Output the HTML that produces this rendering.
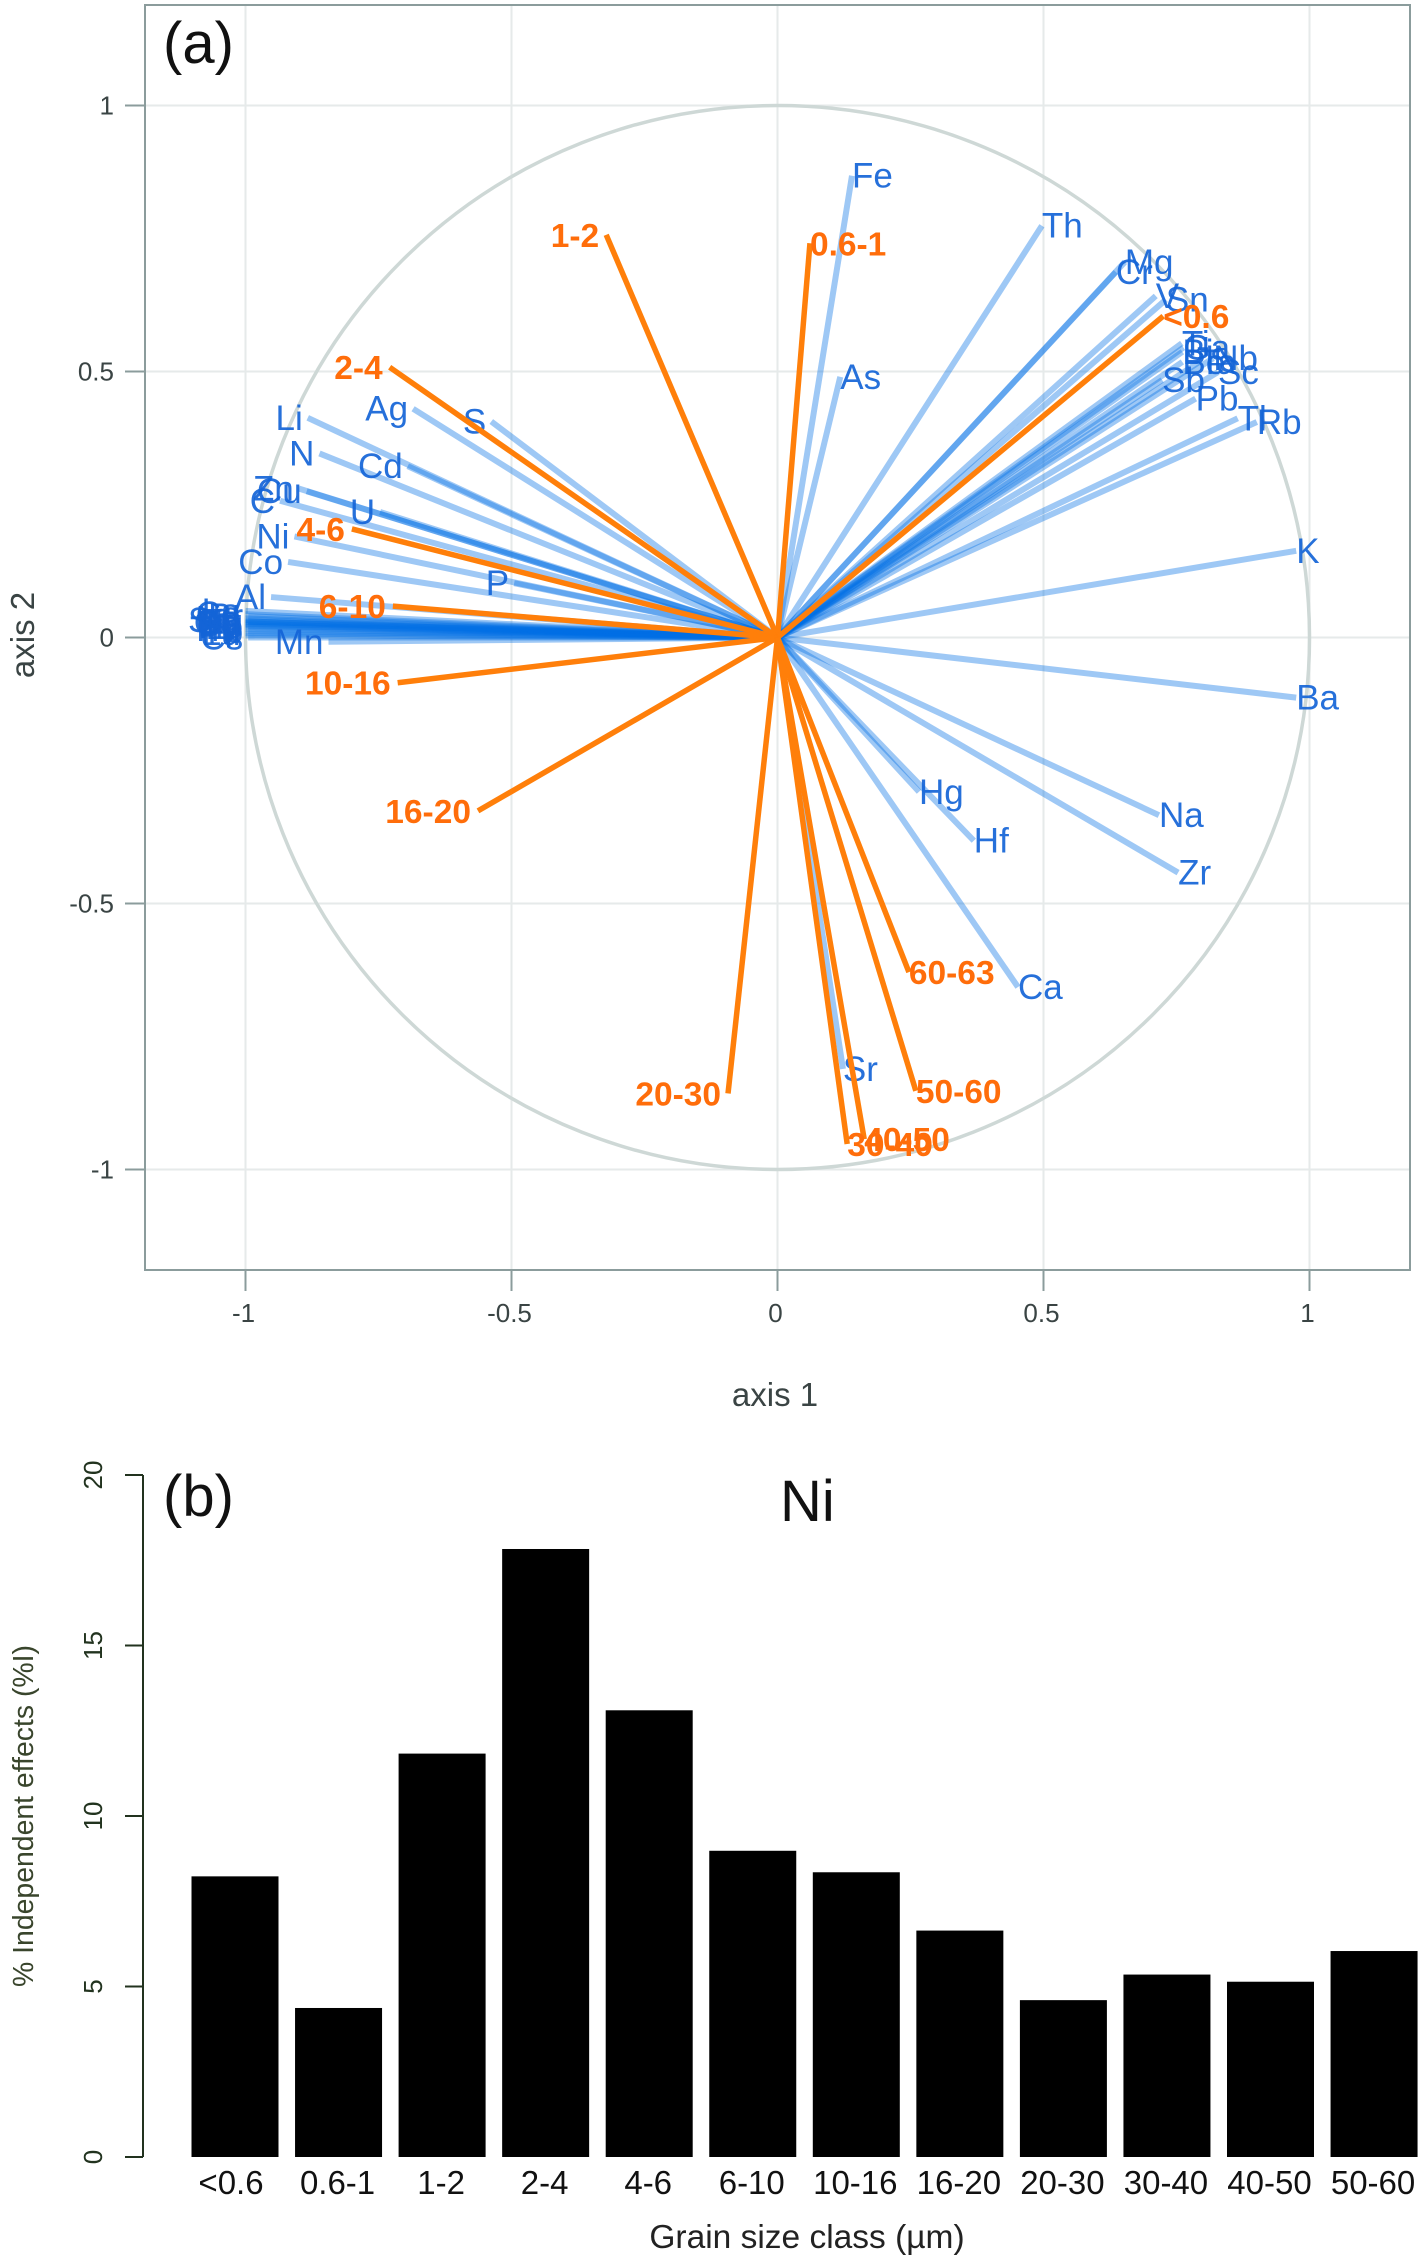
<!DOCTYPE html>
<html lang="en">
<head>
<meta charset="utf-8">
<title>PCA correlation circle and independent effects for Ni</title>
<style>
html,body{margin:0;padding:0;background:#fff;}
svg{display:block;font-family:"Liberation Sans",Arial,sans-serif;}
</style>
</head>
<body>
<svg id="chart" xmlns="http://www.w3.org/2000/svg" width="1418" height="2256" viewBox="0 0 1418 2256">
  <rect x="0" y="0" width="1418" height="2256" fill="#ffffff"/>
  <g id="panelA">
    <g id="gridA"></g>
    <circle id="corCircle" fill="none" stroke="#ced8d6" stroke-width="3.5"/>
    <rect x="145" y="5" width="1265" height="1265" fill="none" stroke="#8b9c9c" stroke-width="2"/>
    <g id="ticksA"></g>
    <g id="elementLines"></g>
    <g id="elementLabels"></g>
    <g id="sizeLines"></g>
    <g id="sizeLabels"></g>
    <text x="163" y="63" font-size="58" fill="#111">(a)</text>
    <text x="775" y="1406" font-size="33" fill="#3a4444" text-anchor="middle">axis 1</text>
    <text transform="translate(34,635) rotate(-90)" font-size="33" fill="#3a4444" text-anchor="middle">axis 2</text>
  </g>
  <g id="panelB">
    <g id="bars"></g>
    <g id="ticksB"></g>
    <text x="163" y="1516" font-size="58" fill="#111">(b)</text>
    <text x="780" y="1521" font-size="58" fill="#111">Ni</text>
    <text x="807" y="2248" font-size="33.5" fill="#222" text-anchor="middle">Grain size class (µm)</text>
    <text transform="translate(33,1816) rotate(-90)" font-size="29" fill="#39452c" text-anchor="middle" textLength="342" lengthAdjust="spacingAndGlyphs">% Independent effects (%I)</text>
  </g>
</svg>
<script>
var elementNames = ["Fe","As","Th","Cr","Mg","V","Sn","Ti","Ga","Bi","Be","Ta","Nb","Sc","Sb","Pb","Tl","Rb","K","Ba","Na","Zr","Hg","Hf","Ca","Sr","S","Ag","Li","N","Cd","Cu","Zn","C","U","Ni","P","Co","Al","Mn","La","Ce","Pr","Nd","Sm","Eu","Gd","Tb","Dy","Ho","Er","Tm","Yb","Lu","Y","Cs","Si"];
var elementAxis1 = [0.14,0.118,0.497,0.636,0.653,0.711,0.73,0.76,0.763,0.761,0.761,0.793,0.819,0.828,0.723,0.786,0.865,0.901,0.975,0.975,0.717,0.753,0.266,0.369,0.452,0.123,-0.538,-0.685,-0.883,-0.861,-0.695,-0.885,-0.9,-0.935,-0.747,-0.908,-0.495,-0.92,-0.952,-0.844,-1.0,-1.0,-0.995,-1.0,-1.0,-0.995,-1.0,-1.0,-1.0,-0.995,-1.0,-1.0,-0.995,-1.0,-1.0,-0.995,-1.0];
var elementAxis2 = [0.868,0.49,0.774,0.687,0.706,0.642,0.635,0.553,0.545,0.537,0.518,0.518,0.525,0.499,0.484,0.449,0.412,0.405,0.163,-0.113,-0.334,-0.442,-0.29,-0.382,-0.657,-0.811,0.406,0.43,0.413,0.346,0.322,0.275,0.28,0.257,0.236,0.19,0.102,0.142,0.076,-0.008,0.05,0.044,0.04,0.036,0.033,0.03,0.028,0.026,0.024,0.022,0.02,0.016,0.012,0.008,0.004,0.0,0.03];

var sizeClassNames = ["<0.6","0.6-1","1-2","2-4","4-6","6-10","10-16","16-20","20-30","30-40","40-50","50-60","60-63"];
var sizeAxis1 = [0.725,0.061,-0.322,-0.729,-0.8,-0.723,-0.714,-0.563,-0.093,0.131,0.163,0.26,0.247];
var sizeAxis2 = [0.604,0.741,0.757,0.508,0.204,0.059,-0.085,-0.326,-0.857,-0.952,-0.943,-0.852,-0.629];

var axisATicks = [-1,-0.5,0,0.5,1];
var axisATickLabels = ["-1","-0.5","0","0.5","1"];

var barCategories = ["<0.6","0.6-1","1-2","2-4","4-6","6-10","10-16","16-20","20-30","30-40","40-50","50-60"];
var barValues = [8.23,4.37,11.83,17.83,13.1,8.98,8.35,6.64,4.6,5.35,5.14,6.04];
var barAxisTicks = [0,5,10,15,20];
var barAxisTickLabels = ["0","5","10","15","20"];

var NS = "http://www.w3.org/2000/svg";
function make(tag, attrs, parent, text) {
  var el = document.createElementNS(NS, tag);
  for (var k in attrs) { el.setAttribute(k, attrs[k]); }
  if (text !== undefined) { el.textContent = text; }
  parent.appendChild(el);
  return el;
}
function xA(v) { return 777.5 + 532 * v; }
function yA(v) { return 637.5 - 532 * v; }
function yB(v) { return 2157 - 34.1 * v; }
function barLeft(i) { return 191.5 + 103.55 * i; }
var BAR_WIDTH = 87;

var circle = document.getElementById("corCircle");
circle.setAttribute("cx", xA(0));
circle.setAttribute("cy", yA(0));
circle.setAttribute("r", 532);

var gridA = document.getElementById("gridA");
var ticksA = document.getElementById("ticksA");
axisATicks.forEach(function (t, i) {
  var gv = make("line", {x1: xA(t), x2: xA(t), y1: 5, y2: 1270, stroke: "#e6eaea", "stroke-width": 2}, gridA);
  
  
  var gh = make("line", {x1: 145, x2: 1410, y1: yA(t), y2: yA(t), stroke: "#e6eaea", "stroke-width": 2}, gridA);
  
  
  var tx = make("line", {x1: xA(t), x2: xA(t), y1: 1270, y2: 1291, stroke: "#8b9c9c", "stroke-width": 2}, ticksA);
  
  
  var ty = make("line", {x1: 125, x2: 145, y1: yA(t), y2: yA(t), stroke: "#8b9c9c", "stroke-width": 2}, ticksA);
  
  
  var lx = make("text", {x: xA(t) - 2, y: 1322, "font-size": 26, fill: "#3a4444", "text-anchor": "middle"}, ticksA, axisATickLabels[i]);
  
  
  var ly = make("text", {x: 114, y: yA(t) + 9, "font-size": 26, fill: "#3a4444", "text-anchor": "end"}, ticksA, axisATickLabels[i]);
  
  
});

var elementLines = document.getElementById("elementLines");
var elementLabels = document.getElementById("elementLabels");
elementNames.forEach(function (name, i) {
  var px = xA(elementAxis1[i]);
  var py = yA(elementAxis2[i]);
  var ln = make("line", {x1: xA(0), y1: yA(0), x2: px, y2: py, stroke: "rgb(0,110,230)", "stroke-opacity": 0.38, "stroke-width": 6}, elementLines);
  
  
  var left = elementAxis1[i] < 0;
  var tx = make("text", {x: px + (left ? -5 : 0), y: py + 12, "font-size": 35, fill: "rgb(20,100,215)", "fill-opacity": 0.92, "text-anchor": left ? "end" : "start"}, elementLabels, name);
  
  
});

var sizeLines = document.getElementById("sizeLines");
var sizeLabels = document.getElementById("sizeLabels");
sizeClassNames.forEach(function (name, i) {
  var px = xA(sizeAxis1[i]);
  var py = yA(sizeAxis2[i]);
  var ln = make("line", {x1: xA(0), y1: yA(0), x2: px, y2: py, stroke: "#ff7f0a", "stroke-width": 5.5}, sizeLines);
  
  
  var left = sizeAxis1[i] < 0;
  var tx = make("text", {x: px + (left ? -7 : 0), y: py + 12, "font-size": 33.5, "font-weight": "bold", fill: "#ff6d0a", "text-anchor": left ? "end" : "start"}, sizeLabels, name);
  
  
});

var bars = document.getElementById("bars");
var ticksB = document.getElementById("ticksB");
barCategories.forEach(function (cat, i) {
  var top = yB(barValues[i]);
  var rect = make("rect", {x: barLeft(i), y: top, width: BAR_WIDTH, height: yB(0) - top, fill: "#000"}, bars);
  
  
  var lab = make("text", {x: barLeft(i) + BAR_WIDTH / 2 - (i === 0 ? 4 : 1), y: 2194, "font-size": 33, fill: "#111", "text-anchor": "middle"}, ticksB, cat);
  
  
});
var axisB = make("line", {x1: 143, x2: 143, y1: yB(20), y2: yB(0), stroke: "#22331f", "stroke-width": 2}, ticksB);


barAxisTicks.forEach(function (t, i) {
  var tk = make("line", {x1: 125, x2: 143, y1: yB(t), y2: yB(t), stroke: "#22331f", "stroke-width": 2}, ticksB);
  
  
  var lb = make("text", {transform: "translate(102," + yB(t) + ") rotate(-90)", "font-size": 26, fill: "#22331f", "text-anchor": "middle"}, ticksB, barAxisTickLabels[i]);
  
  
});
</script>
</body>
</html>
